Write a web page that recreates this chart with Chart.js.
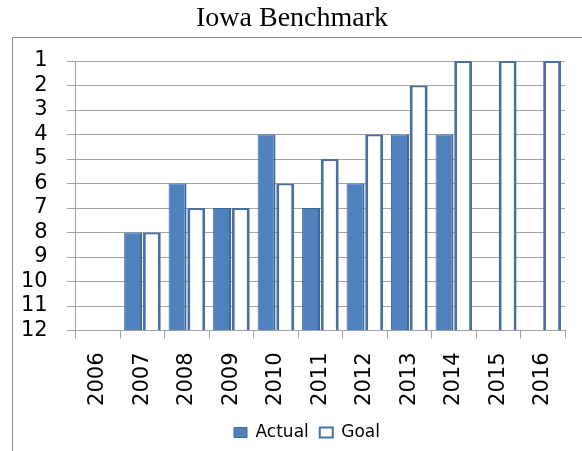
<!DOCTYPE html>
<html>
<head>
<meta charset="utf-8">
<script src="https://cdn.jsdelivr.net/npm/chart.js@4.4.0/dist/chart.umd.min.js"></script>
<style>html,body{margin:0;padding:0;background:#fff;overflow:hidden}</style>
</head>
<body>
<canvas id="chart" width="582" height="451"></canvas>
<script>
// Iowa Benchmark: rank per year, 1 is best, so the y axis runs 1 (top) to 12 (bottom)
const years = ['2006','2007','2008','2009','2010','2011','2012','2013','2014','2015','2016'];
const actual = [null, 8, 6, 7, 4, 7, 6, 4, 4, 12, 12];
const goal   = [null, 8, 7, 7, 6, 5, 4, 2, 1, 1, 1];
const rankTicks = ['1','2','3','4','5','6','7','8','9','10','11','12'];

const gridGray = '#a3a3a3';

// outer chart frame (left + top edge, the rest is cut off) and legend nudge
const framePlugin = {
  id: 'frame',
  afterLayout(chart){
    if(chart.legend){ chart.legend.left += 15; chart.legend.right += 15; }
  },
  beforeDraw(chart){
    const c = chart.ctx;
    c.save();
    c.strokeStyle = '#8f8f8f';
    c.lineWidth = 1;
    c.beginPath();
    c.moveTo(12.5, 451);
    c.lineTo(12.5, 37.5);
    c.lineTo(582, 37.5);
    c.stroke();
    c.restore();
  }
};

new Chart(document.getElementById('chart'), {
  type: 'bar',
  data: {
    labels: years,
    datasets: [
      {label:'Actual', data:actual, base:12, backgroundColor:'#4f81bd', borderColor:'#3c6698',
       borderWidth:{left:1,right:2,top:1,bottom:0}, categoryPercentage:0.84, barPercentage:0.96},
      {label:'Goal', data:goal, base:12, backgroundColor:'#ffffff', borderColor:'#4a6fa5',
       borderWidth:{left:3,right:3,top:2,bottom:0}, categoryPercentage:0.84, barPercentage:0.96}
    ]
  },
  options: {
    responsive:false,
    animation:false,
    devicePixelRatio:1,
    layout:{padding:{left:2, right:0, top:0, bottom:0}},
    plugins:{
      title:{display:true, text:'Iowa Benchmark', color:'#000',
        font:{family:'"Liberation Serif", "Times New Roman", serif', size:28, weight:'normal'},
        padding:{top:2, bottom:25.4}},
      legend:{position:'bottom', labels:{color:'#000', boxWidth:13, boxHeight:10, padding:11,
        font:{family:'"DejaVu Sans", sans-serif', size:17}}},
      tooltip:{enabled:false}
    },
    scales:{
      x:{
        grid:{display:true, drawOnChartArea:false, color:gridGray, tickLength:8, offset:true},
        border:{color:gridGray},
        ticks:{color:'#000', minRotation:90, maxRotation:90, padding:14, autoSkip:false,
          font:{family:'"DejaVu Sans", sans-serif', size:21}},
        afterFit(s){ s.height = 82.5; }
      },
      y:{
        reverse:true, min:1, max:12,
        grid:{color:gridGray, tickLength:9},
        border:{color:gridGray},
        ticks:{stepSize:1, color:'#000', padding:19, autoSkip:false,
          font:{family:'"DejaVu Sans", sans-serif', size:21},
          callback:(v)=> rankTicks[v-1]}
      }
    }
  },
  plugins:[framePlugin]
});
</script>
</body>
</html>
